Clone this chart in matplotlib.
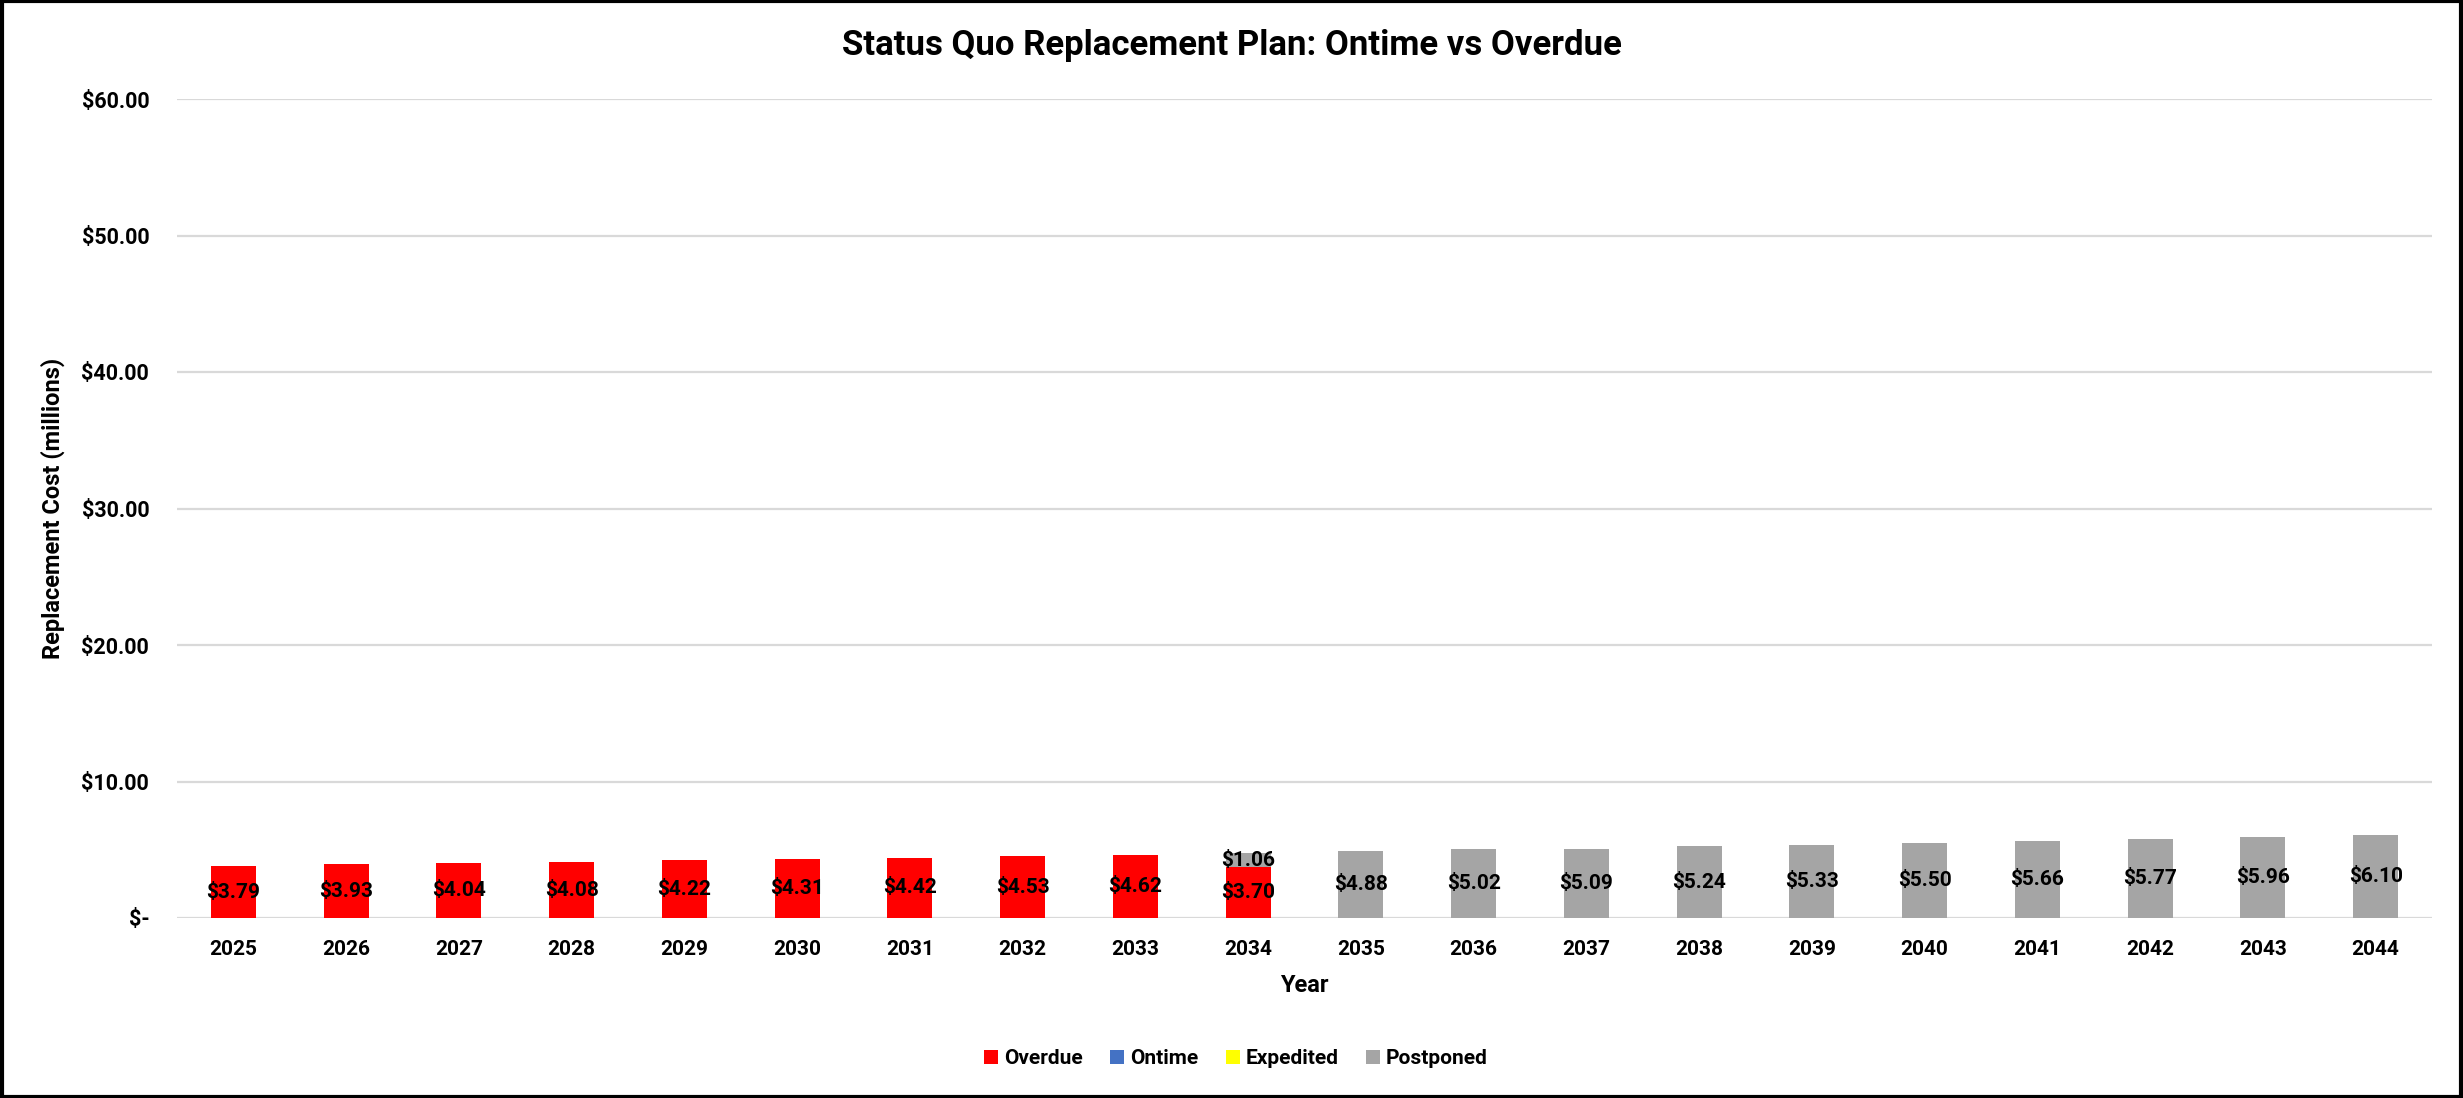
import matplotlib
matplotlib.use("Agg")
import matplotlib.pyplot as plt
from matplotlib.patches import Rectangle
import numpy as np

plt.rcParams['font.family'] = ['Roboto', 'DejaVu Sans']
plt.rcParams['font.weight'] = 'bold'

years = [str(y) for y in range(2025, 2045)]
overdue = [3.79, 3.93, 4.04, 4.08, 4.22, 4.31, 4.42, 4.53, 4.62, 3.70,
           0, 0, 0, 0, 0, 0, 0, 0, 0, 0]
ontime = [0] * 20
expedited = [0] * 20
postponed = [0, 0, 0, 0, 0, 0, 0, 0, 0, 1.06,
             4.88, 5.02, 5.09, 5.24, 5.33, 5.50, 5.66, 5.77, 5.96, 6.10]
y_ticks = [0, 10, 20, 30, 40, 50, 60]
y_ticklabels = ['$-', '$10.00', '$20.00', '$30.00', '$40.00', '$50.00', '$60.00']

series = [
    ('Overdue', overdue, '#FF0000'),
    ('Ontime', ontime, '#4472C4'),
    ('Expedited', expedited, '#FFFF00'),
    ('Postponed', postponed, '#A5A5A5'),
]

W, H = 2463, 1098
fig = plt.figure(figsize=(W / 100, H / 100), dpi=100)
ax = fig.add_axes([177 / W, 1 - 918 / H, (2432 - 177) / W, (918 - 99) / H])

x = np.arange(len(years))
bottom = np.zeros(len(years))
for name, vals, color in series:
    vals = np.array(vals, dtype=float)
    bars = ax.bar(x, vals, 0.4, bottom=bottom, color=color, label=name, zorder=3)
    if name in ('Overdue', 'Postponed'):
        labels = [f'${v:.2f}' if v > 0 else '' for v in vals]
        ax.bar_label(bars, labels=labels, label_type='center', fontsize=15,
                     fontweight='bold', color='black', zorder=4)
    bottom += vals

ax.set_xlim(-0.5, len(years) - 0.5)
ax.set_ylim(0, 60)
ax.set_xticks(x)
ax.set_xticklabels(years, fontsize=15, fontweight='bold')
ax.set_yticks(y_ticks)
ax.set_yticklabels(y_ticklabels, fontsize=15.5, fontweight='bold')
ax.tick_params(axis='both', length=0)
ax.tick_params(axis='x', pad=16)
ax.tick_params(axis='y', pad=20)
ax.grid(axis='y', color='#D9D9D9', linewidth=1.6, zorder=0)
ax.set_axisbelow(True)
for s in ax.spines.values():
    s.set_visible(False)

ax.set_xlabel('Year', fontsize=17, fontweight='bold', labelpad=11)
fig.text(53 / W, 1 - 508 / H, 'Replacement Cost (millions)', rotation=90,
         fontsize=17, fontweight='bold', ha='center', va='center')
fig.text(0.5, 1 - 45 / H, 'Status Quo Replacement Plan: Ontime vs Overdue',
         fontsize=25, fontweight='bold', ha='center', va='center')

fig.legend(loc='center', bbox_to_anchor=(1236 / W, 1 - 1059 / H), ncol=4,
           frameon=False, fontsize=15, handlelength=0.67, handleheight=0.67,
           handletextpad=0.3, columnspacing=1.3)

fig.add_artist(Rectangle((0.001, 0.001), 0.998, 0.998, transform=fig.transFigure,
                         fill=False, edgecolor='black', linewidth=3))

fig.savefig('out.png', dpi=100)
